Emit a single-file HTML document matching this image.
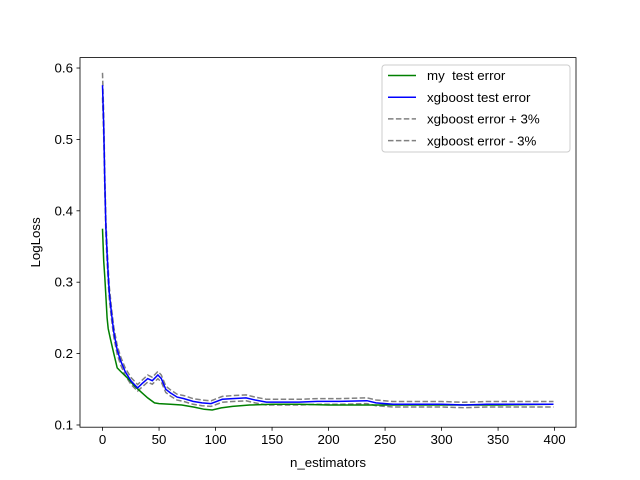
<!DOCTYPE html>
<html><head><meta charset="utf-8"><style>
body{margin:0;background:#fff;}
svg{display:block;font-family:"Liberation Sans","DejaVu Sans",sans-serif;}
text{white-space:pre;}
</style></head><body>
<svg id="chart" width="640" height="480"></svg>
<script>
const xsIdx = [0,1,2,3,4,5,6,8,10,13,16,20,25,31,35,40,44,49,52,56,60,66,72,80,88,96,106,115,127,135,145,160,174,190,210,234,242,257,280,300,320,340,360,380,399];
const xgbVals = [0.576,0.52,0.44,0.377,0.34,0.31,0.285,0.255,0.23,0.205,0.19,0.175,0.162,0.152,0.158,0.165,0.162,0.17,0.165,0.15,0.145,0.139,0.137,0.133,0.131,0.130,0.136,0.137,0.138,0.135,0.132,0.132,0.132,0.133,0.133,0.134,0.131,0.129,0.129,0.129,0.128,0.129,0.129,0.129,0.129];
const myIdx = [0,1,2,3,4,5,7,10,13,16,22,28,35,40,46,50,60,70,81,90,97,105,115,130,150,174,200,250,300,350,399];
const myVals = [0.375,0.33,0.307,0.28,0.25,0.235,0.22,0.2,0.18,0.175,0.166,0.155,0.145,0.138,0.131,0.130,0.129,0.128,0.125,0.122,0.121,0.124,0.126,0.128,0.129,0.129,0.128,0.128,0.128,0.128,0.129];
const xTicks = [0,50,100,150,200,250,300,350,400];
const yTicks = [0.1,0.2,0.3,0.4,0.5,0.6];

const L=80,R=576,T=57.6,B=427.2;
const xMin=-19.95,xMax=418.95,yMin=0.0969,yMax=0.6146;
const sx=v=>L+(v-xMin)/(xMax-xMin)*(R-L);
const sy=v=>B-(v-yMin)/(yMax-yMin)*(B-T);
const svg=document.getElementById('chart');
const NS='http://www.w3.org/2000/svg';
function mk(tag,attrs,parent){const e=document.createElementNS(NS,tag);for(const k in attrs)e.setAttribute(k,attrs[k]);(parent||svg).appendChild(e);return e;}

function series(idx,vals,mult,color,dash,name){
  const pts=idx.map((x,i)=>sx(x).toFixed(1)+','+sy(vals[i]*mult).toFixed(1)).join(' ');
  const p=mk('polyline',{points:pts,fill:'none',stroke:color,'stroke-width':1.5});
  if(dash)p.setAttribute('stroke-dasharray',dash);
  
  
}
series(xsIdx,xgbVals,1.03,'#808080','5.5,2.4','xgboost-plus-3-line');
series(xsIdx,xgbVals,0.97,'#808080','5.5,2.4','xgboost-minus-3-line');
series(myIdx,myVals,1,'#008000',null,'my-test-error-line');
series(xsIdx,xgbVals,1,'#0000ff',null,'xgboost-test-error-line');

const frame=mk('rect',{x:L,y:T,width:R-L,height:B-T,fill:'none',stroke:'#000','stroke-width':0.8});



xTicks.forEach(t=>{
  const x=sx(t);
  mk('line',{x1:x,x2:x,y1:B,y2:B+3.5,stroke:'#000','stroke-width':0.8});
  const tx=mk('text',{x:x,y:B+17,'text-anchor':'middle','font-size':13.3});
  tx.textContent=t;
  
  
});
yTicks.forEach(t=>{
  const y=sy(t);
  mk('line',{x1:L-3.5,x2:L,y1:y,y2:y,stroke:'#000','stroke-width':0.8});
  const tx=mk('text',{x:L-7,y:y+4.5,'text-anchor':'end','font-size':13.3});
  tx.textContent=t.toFixed(1);
  
  
});
const xt=mk('text',{x:(L+R)/2,y:467,'text-anchor':'middle','font-size':13.3});
xt.textContent='n_estimators';


const yt=mk('text',{x:0,y:0,'text-anchor':'middle','font-size':13.3,transform:`translate(40,${(T+B)/2}) rotate(-90)`});
yt.textContent='LogLoss';



const lg=mk('g',{});


mk('rect',{x:382,y:65,width:188,height:87,rx:3,fill:'#fff','fill-opacity':0.8,stroke:'#ccc','stroke-width':1},lg);
const labels=['my  test error','xgboost test error','xgboost error + 3%','xgboost error - 3%'];
const colors=['#008000','#0000ff','#808080','#808080'];
labels.forEach((s,i)=>{
  const y=75.5+i*21.7;
  const ln=mk('line',{x1:388,x2:416,y1:y,y2:y,stroke:colors[i],'stroke-width':1.5},lg);
  if(i>1)ln.setAttribute('stroke-dasharray','5.5,2.4');
  const tx=mk('text',{x:427,y:y+4.7,'font-size':13.3},lg);
  tx.textContent=s;
  
  
});
</script>
</body></html>
